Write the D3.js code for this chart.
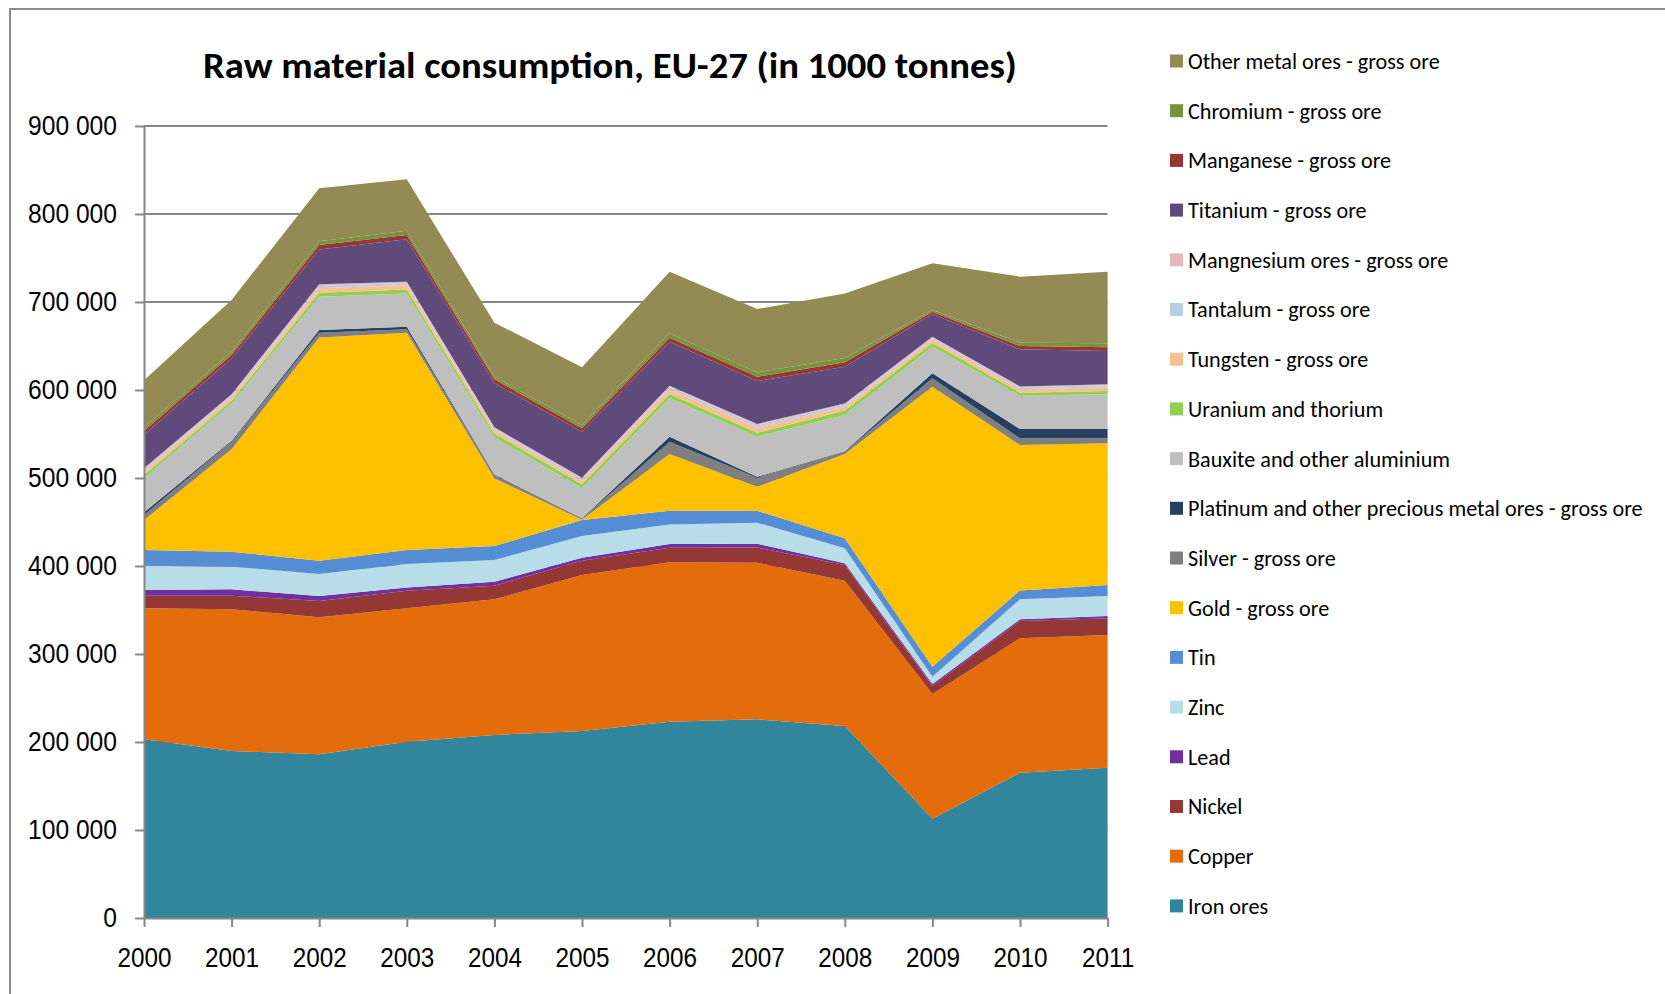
<!DOCTYPE html>
<html lang="en">

<head>
  <meta charset="UTF-8">
  <script src="https://d3js.org/d3.v7.min.js"></script>
  <title>Raw material consumption, EU-27</title>
  <style>
    body {
      margin: 0;
      background: white;
      font-family: Carlito, Calibri, Lato, sans-serif;
    }

    .axis path,
    .axis line {
      stroke: #868686;
      stroke-width: 2px;
    }

    .axis text {
      fill: black;
    }
  </style>
</head>

<body>
  <svg id="chart" width="1665" height="994"></svg>

  <script>
    // data (1000 tonnes)
    const years = [2000, 2001, 2002, 2003, 2004, 2005, 2006, 2007, 2008, 2009, 2010, 2011];

    const ironOres = [203000, 189800, 186000, 200400, 208000, 212500, 223100, 225800, 218200, 112800, 165100, 170800];
    const copper = [148900, 161000, 155700, 151500, 154100, 177300, 181100, 178000, 165000, 141700, 152700, 150800];
    const nickel = [14400, 15500, 18500, 20100, 15500, 16200, 16600, 17200, 17800, 9100, 19700, 18900];
    const lead = [6400, 7200, 5700, 3600, 4600, 3400, 4200, 4400, 2000, 2300, 1900, 2700];
    const zinc = [27700, 25700, 25000, 26700, 24600, 24700, 22300, 23800, 17100, 8300, 22700, 22700];
    const tin = [17800, 17100, 15100, 15900, 15900, 18200, 15500, 13600, 11300, 11400, 10200, 12500];
    const gold = [34100, 116300, 253800, 246900, 76900, 300, 64500, 27300, 95900, 318200, 165200, 161000];
    const silver = [5700, 8700, 5300, 3800, 3800, 1200, 14000, 10200, 2500, 9500, 7600, 5700];
    const platinum = [3000, 1000, 3100, 3100, 500, 500, 5700, 1000, 500, 5700, 10600, 10600];
    const bauxite = [38600, 42500, 37800, 37800, 42300, 34000, 43500, 45700, 41300, 30200, 37900, 39400];
    const uranium = [3800, 3100, 4500, 4500, 4500, 4500, 5000, 4500, 5000, 4600, 3400, 3800];
    const tungsten = [4100, 3800, 5000, 5000, 3800, 4000, 5300, 5700, 4500, 3800, 3800, 4100];
    const tantalum = [2500, 2300, 2800, 2500, 2100, 2600, 2800, 2800, 2500, 1800, 2200, 2400];
    const magnesium = [1000, 1300, 2000, 1200, 1000, 1000, 1300, 1400, 1200, 1000, 1000, 1000];
    const titanium = [37900, 40700, 39500, 48200, 50000, 52200, 50000, 48800, 41700, 26000, 42200, 37900];
    const manganese = [4600, 4000, 5000, 4900, 4500, 3800, 4500, 4900, 5000, 2600, 3800, 4200];
    const chromium = [4000, 3500, 4200, 4900, 3000, 3800, 5000, 4900, 4900, 1900, 3800, 4500];
    const otherOres = [53500, 58800, 60200, 58400, 61400, 65600, 70000, 72000, 73400, 53000, 75000, 81400];

    // stacking order, bottom first
    const seriesNames = ['Iron ores', 'Copper', 'Nickel', 'Lead', 'Zinc', 'Tin', 'Gold - gross ore',
      'Silver - gross ore', 'Platinum and other precious metal ores - gross ore', 'Bauxite and other aluminium',
      'Uranium and thorium', 'Tungsten - gross ore', 'Tantalum - gross ore', 'Mangnesium ores - gross ore',
      'Titanium - gross ore', 'Manganese - gross ore', 'Chromium - gross ore', 'Other metal ores - gross ore'];
    const seriesValues = [ironOres, copper, nickel, lead, zinc, tin, gold, silver, platinum, bauxite,
      uranium, tungsten, tantalum, magnesium, titanium, manganese, chromium, otherOres];
    const seriesColors = ['#31859C', '#E46C0A', '#953735', '#7030A0', '#B7DEE8', '#558ED5', '#FFC000',
      '#7F7F7F', '#254061', '#BFBFBF', '#92D050', '#FAC090', '#B9CDE5', '#E6B9B8',
      '#604A7B', '#953735', '#77933C', '#948A54'];

    const yTicks = [0, 100000, 200000, 300000, 400000, 500000, 600000, 700000, 800000, 900000];

    const svg = d3.select("#chart");

    // outer frame
    svg.append("rect")
      .attr("x", 10).attr("y", 9)
      .attr("width", 1700).attr("height", 1000)
      .style("fill", "white")
      .style("stroke", "#8c8c8c")
      .style("stroke-width", 2);

    const x = d3.scaleLinear().domain([2000, 2011]).range([144, 1107.6]);
    const y = d3.scaleLinear().domain([0, 900000]).range([918, 126]);

    // the original font is narrow (Calibri): squeeze text horizontally to the measured width
    function squeeze(sel, size, target) {
      sel.style("font-size", size + "px");
      let w = 0;
      sel.each(function () { w = Math.max(w, this.getComputedTextLength()); });
      return target / w;
    }

    // gridlines
    svg.append("g").selectAll("line").data(yTicks.slice(1))
      .join("line")
      .attr("x1", x(2000)).attr("x2", x(2011))
      .attr("y1", d => y(d)).attr("y2", d => y(d))
      .style("stroke", "#868686")
      .style("stroke-width", 2);

    // stacked areas
    const table = years.map((yr, i) => {
      const row = { year: yr };
      seriesNames.forEach((n, j) => { row[n] = seriesValues[j][i]; });
      return row;
    });
    const stacked = d3.stack().keys(seriesNames)(table);
    const area = d3.area()
      .x(d => x(d.data.year))
      .y0(d => y(d[0]))
      .y1(d => y(d[1]));

    svg.append("g").selectAll("path").data(stacked)
      .join("path")
      .attr("d", area)
      .style("fill", (d, i) => seriesColors[i]);

    // axes
    const fmt = d => d3.format(",")(d).replace(/,/g, " ");
    const yAxis = svg.append("g").attr("class", "axis")
      .attr("transform", "translate(" + x(2000) + ",0)")
      .call(d3.axisLeft(y).tickValues(yTicks).tickFormat(fmt).tickSize(9).tickPadding(18).tickSizeOuter(0));
    const yLabels = yAxis.selectAll("text");
    const sy = squeeze(yLabels, 28, 89);
    yLabels.attr("x", -27 / sy).attr("transform", "scale(" + sy + ",1)");

    const xAxis = svg.append("g").attr("class", "axis")
      .attr("transform", "translate(0," + y(0) + ")")
      .call(d3.axisBottom(x).tickValues(years).tickFormat(d3.format("d")).tickSize(9).tickPadding(20).tickSizeOuter(0));
    const xLabels = xAxis.selectAll("text");
    const sx = squeeze(xLabels, 28, 54);
    xLabels.attr("transform", "scale(" + sx + ",1)");

    // title
    const title = svg.append("text")
      .text("Raw material consumption, EU-27 (in 1000 tonnes)")
      .attr("x", 0)
      .attr("y", 0)
      .attr("text-anchor", "middle")
      .style("font-weight", "bold")
      .style("fill", "black");
    const st = squeeze(title, 36, 814);
    title.attr("transform", "translate(610,78) scale(" + st + ",1)");

    // legend, top item is the last stacked series
    const legend = svg.append("g").attr("id", "legend");
    const legendItems = seriesNames.map((n, i) => ({ name: n, color: seriesColors[i] })).reverse();

    legendItems.forEach((d, i) => {
      const cy = 61 + 49.7 * i;
      legend.append("rect")
        .attr("x", 1170)
        .attr("y", cy - 6.5)
        .attr("width", 13)
        .attr("height", 13)
        .style("fill", d.color);
      legend.append("text")
        .text(d.name)
        .attr("class", "legend_label")
        .attr("x", 0)
        .attr("y", 0)
        .attr("dy", "0.36em")
        .attr("data-cy", cy)
        .style("fill", "black");
    });
    const legendLabels = legend.selectAll("text.legend_label");
    const sl = squeeze(legendLabels, 22, 455);
    legendLabels.attr("transform", function () {
      return "translate(1188," + d3.select(this).attr("data-cy") + ") scale(" + sl + ",1)";
    });
  </script>
</body>

</html>
